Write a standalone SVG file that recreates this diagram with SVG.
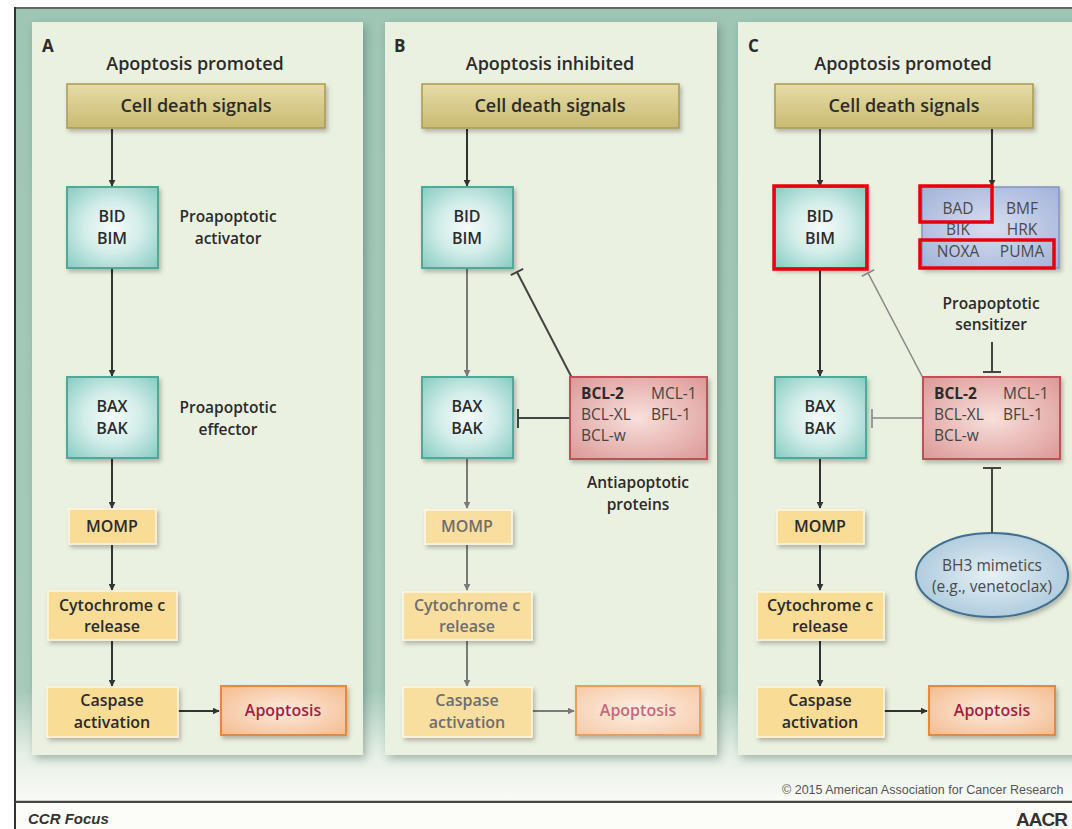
<svg xmlns="http://www.w3.org/2000/svg" width="1072" height="829" viewBox="0 0 1072 829">
<defs>
  <linearGradient id="bg" x1="0" y1="0" x2="0" y2="1">
    <stop offset="0" stop-color="#9fc5b4"/>
    <stop offset="0.86" stop-color="#a7cabb"/>
    <stop offset="0.94" stop-color="#e6efe6"/>
    <stop offset="1" stop-color="#fafbf6"/>
  </linearGradient>
  <linearGradient id="gold" x1="0" y1="0" x2="0" y2="1">
    <stop offset="0" stop-color="#e6dca6"/>
    <stop offset="1" stop-color="#c9ba72"/>
  </linearGradient>
  <radialGradient id="teal" cx="0.5" cy="0.5" r="0.7">
    <stop offset="0" stop-color="#f5fbfa"/>
    <stop offset="0.45" stop-color="#d3ede9"/>
    <stop offset="1" stop-color="#86ccc1"/>
  </radialGradient>
  <radialGradient id="apo" cx="0.5" cy="0.5" r="0.7">
    <stop offset="0" stop-color="#fdebde"/>
    <stop offset="1" stop-color="#f4bb8e"/>
  </radialGradient>
  <radialGradient id="apoF" cx="0.5" cy="0.5" r="0.7">
    <stop offset="0" stop-color="#fdf0e6"/>
    <stop offset="1" stop-color="#f6c9a6"/>
  </radialGradient>
  <radialGradient id="red" cx="0.5" cy="0.5" r="0.7">
    <stop offset="0" stop-color="#f8e0dc"/>
    <stop offset="1" stop-color="#dc9896"/>
  </radialGradient>
  <radialGradient id="blue" cx="0.5" cy="0.5" r="0.7">
    <stop offset="0" stop-color="#d7def0"/>
    <stop offset="1" stop-color="#a2b2d9"/>
  </radialGradient>
  <radialGradient id="ell" cx="0.5" cy="0.5" r="0.6">
    <stop offset="0" stop-color="#e6f0f5"/>
    <stop offset="1" stop-color="#a6c6da"/>
  </radialGradient>
  <filter id="sh" x="-10%" y="-10%" width="125%" height="130%">
    <feDropShadow dx="2" dy="3" stdDeviation="2" flood-color="#000" flood-opacity="0.25"/>
  </filter>
  <filter id="psh" x="-5%" y="-5%" width="112%" height="110%">
    <feDropShadow dx="3" dy="4" stdDeviation="4" flood-color="#2d4a40" flood-opacity="0.35"/>
  </filter>
  <marker id="ah" viewBox="0 0 10 10" refX="9" refY="5" markerWidth="7" markerHeight="7" orient="auto" markerUnits="userSpaceOnUse">
    <path d="M0,0 L10,5 L0,10 z" fill="#333"/>
  </marker>
  <marker id="ahG" viewBox="0 0 10 10" refX="9" refY="5" markerWidth="7" markerHeight="7" orient="auto" markerUnits="userSpaceOnUse">
    <path d="M0,0 L10,5 L0,10 z" fill="#7a7a7a"/>
  </marker>
  <style>
    text { font-family: "Open Sans", "Liberation Sans", sans-serif; fill: #2b2b2b; }
    .lbl { font-size: 17px; font-weight: 700; }
    .ttl { font-size: 18px; font-weight: 600; text-anchor: middle; }
    .bx { font-size: 16px; font-weight: 600; text-anchor: middle; }
    .note { font-size: 15.5px; font-weight: 600; text-anchor: middle; }
    .fd { fill: #6e6e6e; }
    .apt { fill: #a51f42; font-size: 16px; font-weight: 600; text-anchor: middle; }
    .aptF { fill: #c8687a; font-size: 16px; font-weight: 600; text-anchor: middle; }
    .mem { font-size: 15.5px; font-weight: 500; fill: #444; }
    .sen { font-size: 15.5px; font-weight: 500; fill: #4a4a4a; text-anchor: middle; }
    .panel { fill: #ebf1e0; filter: url(#psh); }
    .gold { fill: url(#gold); stroke: #a99a52; stroke-width: 1.5; filter: url(#sh); }
    .teal { fill: url(#teal); stroke: #4fa99b; stroke-width: 2; filter: url(#sh); }
    .yel { fill: #f9dc95; stroke: #fff6df; stroke-width: 1.5; filter: url(#sh); }
    .yelF { fill: #f8df9f; stroke: #fff8e6; stroke-width: 1.5; filter: url(#sh); }
    .apo { fill: url(#apo); stroke: #e8883c; stroke-width: 2; filter: url(#sh); }
    .apoF { fill: url(#apoF); stroke: #ec9c5c; stroke-width: 2; filter: url(#sh); }
    .red { fill: url(#red); stroke: #c24f58; stroke-width: 2; filter: url(#sh); }
    .blue { fill: url(#blue); stroke: #8393c5; stroke-width: 1.5; filter: url(#sh); }
    .hl { fill: none; stroke: #e8000b; stroke-width: 3.5; }
    .ar { stroke: #333; stroke-width: 2; fill: none; marker-end: url(#ah); }
    .arG { stroke: #7a7a7a; stroke-width: 2; fill: none; marker-end: url(#ahG); }
    .inh { stroke: #444; stroke-width: 2; fill: none; }
    .inhG { stroke: #8a8a8a; stroke-width: 1.6; fill: none; }
  </style>
</defs>

<!-- frame -->
<rect x="0" y="0" width="1072" height="829" fill="#ffffff"/>
<rect x="15" y="8" width="1057" height="794" fill="url(#bg)"/>
<line x1="15" y1="8" x2="1072" y2="8" stroke="#666" stroke-width="2"/>
<line x1="15" y1="7" x2="15" y2="829" stroke="#333" stroke-width="2"/>
<line x1="15" y1="802" x2="1072" y2="802" stroke="#444" stroke-width="2.5"/>
<rect x="16" y="803" width="1056" height="26" fill="#fcfcf8"/>

<!-- panels -->
<rect class="panel" x="32" y="22" width="331" height="733"/>
<rect class="panel" x="385" y="22" width="332" height="733"/>
<rect class="panel" x="738" y="22" width="345" height="733"/>

<text class="lbl" x="42" y="52">A</text>
<text class="lbl" x="394" y="52">B</text>
<text class="lbl" x="748" y="52">C</text>
<text class="ttl" x="195" y="70">Apoptosis promoted</text>
<text class="ttl" x="550" y="70">Apoptosis inhibited</text>
<text class="ttl" x="903" y="70">Apoptosis promoted</text>

<!-- connectors -->
<g id="connectors">
  <!-- A -->
  <line class="ar" x1="112" y1="129" x2="112" y2="186"/>
  <line class="ar" x1="112" y1="268" x2="112" y2="376"/>
  <line class="ar" x1="112" y1="458" x2="112" y2="508"/>
  <line class="ar" x1="112" y1="545" x2="112" y2="590"/>
  <line class="ar" x1="112" y1="641" x2="112" y2="686"/>
  <line class="ar" x1="178" y1="711" x2="219" y2="711"/>
  <!-- B -->
  <line class="ar" x1="467" y1="129" x2="467" y2="186"/>
  <line class="arG" x1="467" y1="268" x2="467" y2="376"/>
  <line class="arG" x1="467" y1="458" x2="467" y2="508"/>
  <line class="arG" x1="467" y1="545" x2="467" y2="590"/>
  <line class="arG" x1="467" y1="641" x2="467" y2="686"/>
  <line class="arG" x1="532" y1="711" x2="574" y2="711"/>
  <line class="inh" x1="572" y1="378" x2="517" y2="272"/>
  <line class="inh" x1="510.8" y1="275.2" x2="523.2" y2="268.8"/>
  <line class="inh" x1="570" y1="418" x2="518" y2="418"/>
  <line class="inh" x1="518" y1="409" x2="518" y2="428"/>
  <!-- C -->
  <line class="ar" x1="820" y1="129" x2="820" y2="186"/>
  <line class="ar" x1="992" y1="129" x2="992" y2="186"/>
  <line class="ar" x1="820" y1="268" x2="820" y2="376"/>
  <line class="ar" x1="820" y1="458" x2="820" y2="508"/>
  <line class="ar" x1="820" y1="545" x2="820" y2="590"/>
  <line class="ar" x1="820" y1="641" x2="820" y2="686"/>
  <line class="ar" x1="884" y1="711" x2="927" y2="711"/>
  <line class="inhG" x1="923" y1="378" x2="868" y2="273"/>
  <line class="inhG" x1="861.8" y1="276.2" x2="874.2" y2="269.8"/>
  <line class="inhG" x1="923" y1="418" x2="872" y2="418"/>
  <line class="inhG" x1="872" y1="409" x2="872" y2="428"/>
  <line class="inh" x1="992" y1="342" x2="992" y2="372"/>
  <line class="inh" x1="983" y1="372" x2="1001" y2="372"/>
  <line class="inh" x1="992" y1="532" x2="992" y2="468"/>
  <line class="inh" x1="983" y1="468" x2="1001" y2="468"/>
</g>

<!-- Panel A nodes -->
<g id="a-signals"><rect class="gold" x="67" y="84" width="258" height="44"/><text class="ttl" x="196" y="112">Cell death signals</text></g>
<g id="a-bidbim"><rect class="teal" x="67" y="187" width="91" height="81"/><text class="bx" x="112" y="222">BID</text><text class="bx" x="112" y="244">BIM</text></g>
<g id="a-activator-label"><text class="note" x="228" y="222">Proapoptotic</text><text class="note" x="228" y="244">activator</text></g>
<g id="a-baxbak"><rect class="teal" x="67" y="377" width="91" height="81"/><text class="bx" x="112" y="412">BAX</text><text class="bx" x="112" y="434">BAK</text></g>
<g id="a-effector-label"><text class="note" x="228" y="413">Proapoptotic</text><text class="note" x="228" y="435">effector</text></g>
<g id="a-momp"><rect class="yel" x="69" y="509" width="87" height="35"/><text class="bx" x="112" y="532">MOMP</text></g>
<g id="a-cyto"><rect class="yel" x="48" y="591" width="129" height="49"/><text class="bx" x="112" y="611">Cytochrome c</text><text class="bx" x="112" y="632">release</text></g>
<g id="a-caspase"><rect class="yel" x="47" y="687" width="131" height="50"/><text class="bx" x="112" y="706">Caspase</text><text class="bx" x="112" y="728">activation</text></g>
<g id="a-apoptosis"><rect class="apo" x="221" y="686" width="125" height="49"/><text class="apt" x="283" y="716">Apoptosis</text></g>

<!-- Panel B nodes -->
<g id="b-signals"><rect class="gold" x="422" y="84" width="257" height="44"/><text class="ttl" x="550" y="112">Cell death signals</text></g>
<g id="b-bidbim"><rect class="teal" x="422" y="187" width="91" height="81"/><text class="bx" x="467" y="222">BID</text><text class="bx" x="467" y="244">BIM</text></g>
<g id="b-baxbak"><rect class="teal" x="422" y="377" width="91" height="81"/><text class="bx" x="467" y="412">BAX</text><text class="bx" x="467" y="434">BAK</text></g>
<g id="b-anti"><rect class="red" x="570" y="377" width="137" height="82"/>
  <text class="mem" x="581" y="399" style="font-weight:700;fill:#2b2b2b">BCL-2</text><text class="mem" x="651" y="399">MCL-1</text>
  <text class="mem" x="581" y="420">BCL-XL</text><text class="mem" x="651" y="420">BFL-1</text>
  <text class="mem" x="581" y="441">BCL-w</text></g>
<g id="b-anti-label"><text class="note" x="638" y="488">Antiapoptotic</text><text class="note" x="638" y="510">proteins</text></g>
<g id="b-momp"><rect class="yelF" x="425" y="510" width="87" height="34"/><text class="bx fd" x="467" y="532">MOMP</text></g>
<g id="b-cyto"><rect class="yelF" x="403" y="592" width="129" height="48"/><text class="bx fd" x="467" y="611">Cytochrome c</text><text class="bx fd" x="467" y="632">release</text></g>
<g id="b-caspase"><rect class="yelF" x="403" y="687" width="129" height="50"/><text class="bx fd" x="467" y="706">Caspase</text><text class="bx fd" x="467" y="728">activation</text></g>
<g id="b-apoptosis"><rect class="apoF" x="576" y="686" width="124" height="49"/><text class="aptF" x="638" y="716">Apoptosis</text></g>

<!-- Panel C nodes -->
<g id="c-signals"><rect class="gold" x="775" y="84" width="258" height="44"/><text class="ttl" x="904" y="112">Cell death signals</text></g>
<g id="c-bidbim"><rect class="teal" x="775" y="187" width="91" height="81"/><text class="bx" x="820" y="222">BID</text><text class="bx" x="820" y="244">BIM</text><rect class="hl" x="774" y="186" width="93" height="83"/></g>
<g id="c-sensitizers"><rect class="blue" x="922" y="187" width="137" height="81"/>
  <text class="sen" x="958" y="214">BAD</text><text class="sen" x="1022" y="214">BMF</text>
  <text class="sen" x="958" y="235">BIK</text><text class="sen" x="1022" y="235">HRK</text>
  <text class="sen" x="958" y="257">NOXA</text><text class="sen" x="1022" y="257">PUMA</text>
  <rect class="hl" x="920" y="186" width="72" height="36"/>
  <rect class="hl" x="920" y="240" width="134" height="28"/></g>
<g id="c-sensitizer-label"><text class="note" x="991" y="309">Proapoptotic</text><text class="note" x="991" y="330">sensitizer</text></g>
<g id="c-baxbak"><rect class="teal" x="775" y="377" width="91" height="81"/><text class="bx" x="820" y="412">BAX</text><text class="bx" x="820" y="434">BAK</text></g>
<g id="c-anti"><rect class="red" x="923" y="377" width="137" height="82"/>
  <text class="mem" x="934" y="399" style="font-weight:700;fill:#2b2b2b">BCL-2</text><text class="mem" x="1003" y="399">MCL-1</text>
  <text class="mem" x="934" y="420">BCL-XL</text><text class="mem" x="1003" y="420">BFL-1</text>
  <text class="mem" x="934" y="441">BCL-w</text></g>
<g id="c-bh3"><ellipse cx="992" cy="575" rx="76" ry="42" fill="url(#ell)" stroke="#3f6e8e" stroke-width="2" filter="url(#sh)"/>
  <text class="sen" x="992" y="571">BH3 mimetics</text><text class="sen" x="992" y="592">(e.g., venetoclax)</text></g>
<g id="c-momp"><rect class="yel" x="777" y="510" width="87" height="34"/><text class="bx" x="820" y="532">MOMP</text></g>
<g id="c-cyto"><rect class="yel" x="757" y="592" width="127" height="48"/><text class="bx" x="820" y="611">Cytochrome c</text><text class="bx" x="820" y="632">release</text></g>
<g id="c-caspase"><rect class="yel" x="757" y="687" width="127" height="50"/><text class="bx" x="820" y="706">Caspase</text><text class="bx" x="820" y="728">activation</text></g>
<g id="c-apoptosis"><rect class="apo" x="929" y="686" width="126" height="49"/><text class="apt" x="992" y="716">Apoptosis</text></g>

<!-- footer -->
<text x="782" y="794" style="font-family:'Liberation Sans',Arial,sans-serif;font-size:12.5px;fill:#555">© 2015 American Association for Cancer Research</text>
<text x="28" y="824" style="font-family:'Liberation Sans',Arial,sans-serif;font-size:15px;font-weight:700;font-style:italic;fill:#333">CCR Focus</text>
<text x="1016" y="826" style="font-family:'Liberation Sans',Arial,sans-serif;font-size:19px;font-weight:700;fill:#333;letter-spacing:-1px">AACR</text>
</svg>
